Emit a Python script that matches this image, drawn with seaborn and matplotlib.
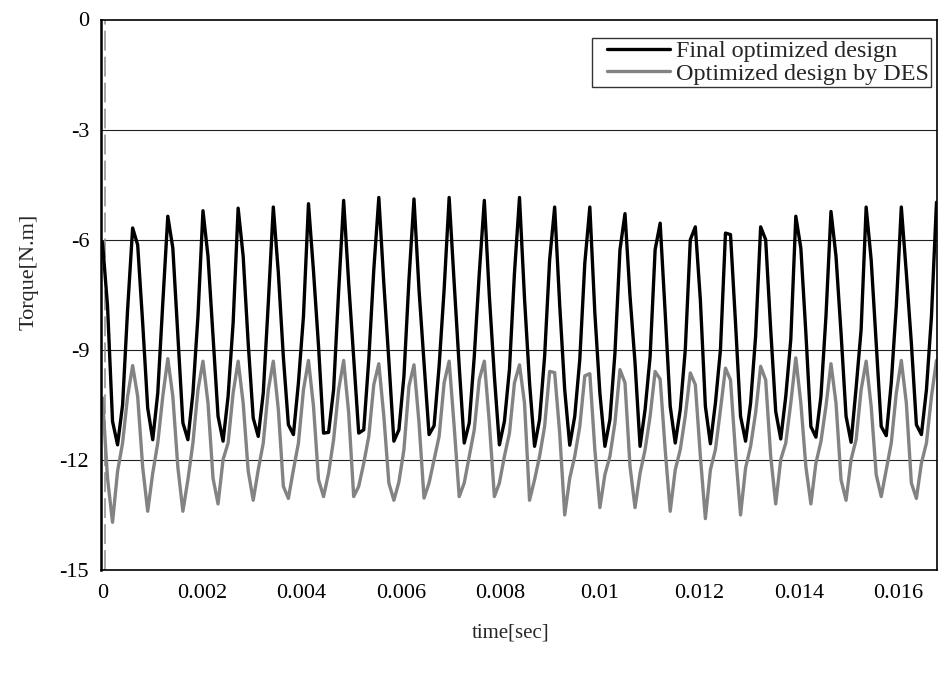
import numpy as np
import pandas as pd
import matplotlib
matplotlib.use("Agg")
import matplotlib.pyplot as plt
import seaborn as sns
from matplotlib.lines import Line2D
from matplotlib.legend_handler import HandlerLine2D

# Torque waveforms over one electrical cycle (60 Hz), 165 sampling intervals per cycle
series_names = ["Final optimized design", "Optimized design by DES"]

final_design = [
    -6.07, -7.80, -10.95, -11.59, -10.50, -7.90, -5.68, -6.14, -8.27, -10.59,
    -11.45, -10.18, -7.73, -5.36, -6.23, -8.63, -10.99, -11.45, -10.18, -8.09,
    -5.21, -6.45, -8.63, -10.81, -11.49, -10.27, -8.27, -5.14, -6.45, -8.82,
    -10.86, -11.36, -10.18, -7.73, -5.11, -6.90, -9.20, -11.04, -11.31, -9.90,
    -8.09, -5.02, -6.86, -8.90, -11.27, -11.25, -10.09, -7.41, -4.93, -7.18,
    -9.22, -11.27, -11.18, -9.27, -6.82, -4.85, -7.20, -9.30, -11.49, -11.18,
    -9.72, -7.09, -4.89, -7.36, -9.36, -11.31, -11.07, -9.45, -7.36, -4.85,
    -7.18, -9.45, -11.54, -10.99, -9.18, -6.91, -4.93, -7.54, -9.72, -11.59,
    -10.95, -9.54, -6.91, -4.85, -7.60, -9.90, -11.63, -10.90, -9.18, -6.55,
    -5.11, -7.77, -10.09, -11.60, -10.81, -9.27, -6.64, -5.11, -8.00, -10.18,
    -11.63, -10.90, -9.09, -6.27, -5.29, -7.54, -9.36, -11.63, -10.63, -9.18,
    -6.27, -5.55, -8.00, -10.54, -11.54, -10.63, -9.00, -6.00, -5.65, -7.64,
    -10.54, -11.56, -10.45, -9.00, -5.82, -5.86, -8.27, -10.81, -11.49, -10.45,
    -8.63, -5.65, -6.00, -8.45, -10.68, -11.43, -10.27, -8.72, -5.36, -6.23,
    -8.54, -11.09, -11.38, -10.27, -8.09, -5.23, -6.45, -8.54, -10.81, -11.52,
    -10.04, -8.45, -5.11, -6.55, -8.82, -11.09, -11.34, -9.90, -7.82, -5.11,
    -6.91, -8.82, -11.04, -11.31, -10.09, -8.09, -4.98,
]

des_design = [
    -10.31, -12.50, -13.70, -12.31, -11.54, -10.27, -9.43, -10.27, -12.20, -13.40,
    -12.36, -11.54, -10.27, -9.24, -10.27, -12.20, -13.40, -12.54, -11.54, -10.09,
    -9.31, -10.45, -12.50, -13.20, -11.99, -11.54, -10.18, -9.31, -10.45, -12.30,
    -13.10, -12.27, -11.54, -10.09, -9.31, -10.63, -12.72, -13.05, -12.27, -11.54,
    -10.09, -9.29, -10.54, -12.54, -13.00, -12.36, -11.45, -10.09, -9.29, -10.72,
    -13.00, -12.72, -12.09, -11.36, -9.95, -9.38, -10.81, -12.63, -13.10, -12.60,
    -11.72, -9.99, -9.41, -10.99, -13.04, -12.63, -11.99, -11.36, -9.90, -9.31,
    -11.09, -13.00, -12.63, -11.90, -11.18, -9.81, -9.31, -10.99, -13.00, -12.63,
    -11.90, -11.27, -9.90, -9.41, -10.45, -13.10, -12.54, -11.90, -11.09, -9.59,
    -9.62, -11.27, -13.50, -12.50, -11.90, -11.09, -9.71, -9.65, -11.72, -13.30,
    -12.40, -11.90, -10.99, -9.54, -9.90, -12.18, -13.30, -12.36, -11.72, -10.81,
    -9.59, -9.80, -11.72, -13.40, -12.27, -11.72, -10.81, -9.63, -9.95, -11.90,
    -13.60, -12.27, -11.72, -10.63, -9.50, -9.82, -11.81, -13.50, -12.22, -11.63,
    -10.72, -9.45, -9.82, -11.90, -13.20, -11.99, -11.54, -10.45, -9.22, -10.45,
    -12.18, -13.20, -12.09, -11.50, -10.54, -9.38, -10.45, -12.54, -13.10, -11.99,
    -11.45, -10.09, -9.31, -10.54, -12.40, -13.00, -12.27, -11.54, -10.18, -9.29,
    -10.45, -12.63, -13.05, -12.09, -11.54, -10.27, -9.29,
]

sample_step = (1 / 60) / 165
time_s = np.arange(len(final_design)) * sample_step

x_ticks = [0, 0.002, 0.004, 0.006, 0.008, 0.010, 0.012, 0.014, 0.016]
x_tick_labels = ["0", "0.002", "0.004", "0.006", "0.008", "0.01", "0.012", "0.014", "0.016"]
y_ticks = [0, -3, -6, -9, -12, -15]
y_tick_labels = ["0", "-3", "-6", "-9", "-12", "-15"]

n = len(time_s)
df = pd.DataFrame({
    "time": np.concatenate([time_s, time_s]),
    "torque": np.array(des_design + final_design),
    "design": [series_names[1]] * n + [series_names[0]] * n,
})

sns.set_style("white")
plt.rcParams["font.family"] = ["Liberation Serif", "DejaVu Serif"]

fig = plt.figure(figsize=(9.4, 6.73), dpi=100)
ax = fig.add_axes([101 / 940, 1 - 570 / 673, 836 / 940, 550.5 / 673])

sns.lineplot(
    data=df, x="time", y="torque", hue="design",
    hue_order=[series_names[1], series_names[0]],
    palette={series_names[0]: "black", series_names[1]: "#838383"},
    estimator=None, sort=False, linewidth=2.4, ax=ax,
)

# horizontal grid
for yv in y_ticks[1:-1]:
    ax.axhline(yv, color="#222222", linewidth=0.8, zorder=0)

# thin dashed marker just right of the origin
ax.axvline(0.000055, color="#8a8a8a", linewidth=1.1, linestyle=(0, (13, 4)), zorder=1)

ax.set_xlim(-0.00003, 0.016778)
ax.set_ylim(-15, 0)
ax.set_xticks(x_ticks)
ax.set_xticklabels(x_tick_labels)
ax.set_yticks(y_ticks)
ax.set_yticklabels(y_tick_labels)
ax.tick_params(axis="both", length=0, labelsize=16, colors="black")
ax.tick_params(axis="y", pad=8.5)
ax.tick_params(axis="x", pad=10)

for s in ax.spines.values():
    s.set_color("black")
    s.set_linewidth(1.2)
ax.spines["left"].set_linewidth(1.8)

ax.set_xlabel("time[sec]", fontsize=15)
ax.set_ylabel("Torque[N.m]", fontsize=16)
ax.xaxis.set_label_coords(0.490, -0.098)
ax.yaxis.set_label_coords(-0.075, 0.541)

handles, labels = ax.get_legend_handles_labels()
order = [labels.index(series_names[0]), labels.index(series_names[1])]
line_handler = HandlerLine2D(numpoints=2, marker_pad=0.55)
leg = ax.legend(
    [handles[i] for i in order], [labels[i] for i in order],
    loc="upper right", bbox_to_anchor=(0.993, 0.966), borderaxespad=0,
    fontsize=17.4, frameon=True, fancybox=False, edgecolor="black",
    handlelength=3.7, handletextpad=-0.3, labelspacing=0.03, borderpad=0.08,
    handler_map={Line2D: line_handler},
)
leg.get_frame().set_linewidth(1.0)

fig.savefig("out.png", dpi=100, facecolor="white")
